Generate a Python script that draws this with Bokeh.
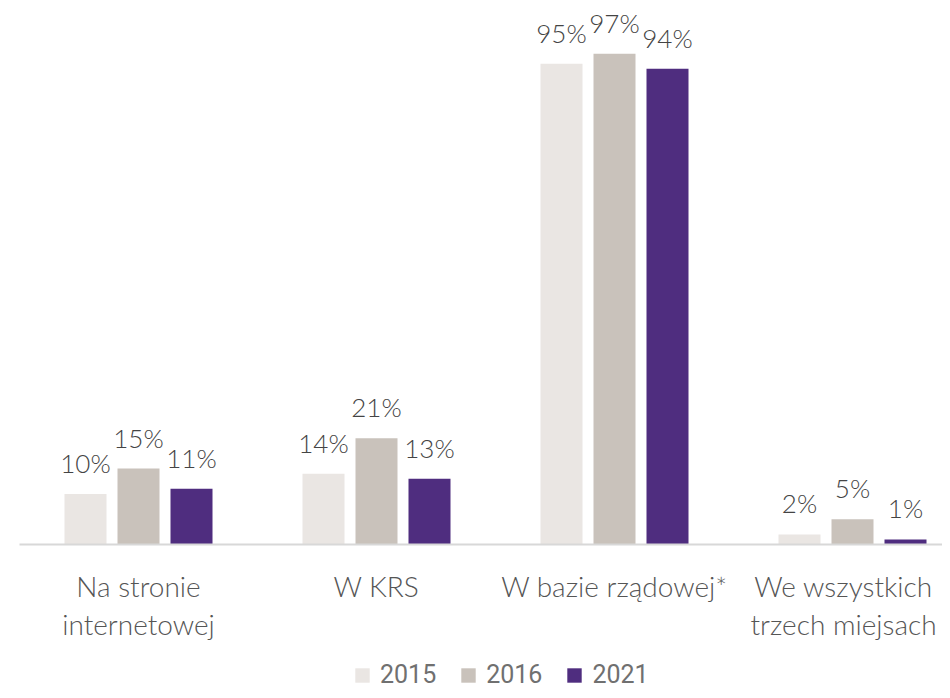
from bokeh.plotting import figure
from bokeh.models import ColumnDataSource, Range1d, Legend, LegendItem
from bokeh.core.properties import value
from bokeh.embed import file_html
from bokeh.resources import INLINE

# ---- data ----
categories = ["Na stronie\ninternetowej", "W KRS", "W bazie rządowej*", "We wszystkich\ntrzech miejsach"]
years = ["2015", "2016", "2021"]
values_2015 = [10, 14, 95, 2]
values_2016 = [15, 21, 97, 5]
values_2021 = [11, 13, 94, 1]
label_2015 = ["10%", "14%", "95%", "2%"]
label_2016 = ["15%", "21%", "97%", "5%"]
label_2021 = ["11%", "13%", "94%", "1%"]

colors = ["#EAE6E3", "#C9C2BB", "#4F2D7F"]
series = [values_2015, values_2016, values_2021]
labels = [label_2015, label_2016, label_2021]

W, H = 942, 690
px_per_unit_x = 238.0
px_per_pct = 5.06
x0_px = 19          # category-range start inside frame (px)
base_px = 544       # baseline from frame top (px)

x_start = -x0_px / px_per_unit_x
x_end = (W - x0_px) / px_per_unit_x
y_end = base_px / px_per_pct
y_start = -(H - base_px) / px_per_pct

p = figure(width=W, height=H, output_backend="svg", toolbar_location=None,
           x_range=Range1d(x_start, x_end), y_range=Range1d(y_start, y_end),
           min_border=0, min_border_left=0, min_border_right=0,
           min_border_top=0, min_border_bottom=0)
p.axis.visible = False
p.grid.visible = False
p.outline_line_color = None
p.background_fill_color = None
p.border_fill_color = None

centers = [i + 0.5 for i in range(len(categories))]
bar_w = 42 / px_per_unit_x
offsets = [-53 / px_per_unit_x, 0.0, 53 / px_per_unit_x]

font = value("Lato Light")
renderers = []
for k, (vals, labs, col, off) in enumerate(zip(series, labels, colors, offsets)):
    xs = [c + off for c in centers]
    src = ColumnDataSource(dict(x=xs, top=vals, lab=labs))
    r = p.vbar(x="x", top="top", bottom=0, width=bar_w, source=src,
               fill_color=col, line_color=None)
    renderers.append(r)
    p.text(x="x", y="top", text="lab", source=src, text_align="center",
           text_baseline="alphabetic", y_offset=-31, text_font=font,
           text_font_size="26px", text_color="#444444")

# baseline axis line
p.segment(x0=[0], y0=[0], x1=[x_end], y1=[0], line_color="#D8D8D8", line_width=2)

# category labels (last one nudged left so it stays inside the canvas)
line1 = [c.split("\n")[0] for c in categories]
line2 = [c.split("\n")[1] if "\n" in c else "" for c in categories]
nudge = [0, 0, 0, -9]
csrc = ColumnDataSource(dict(x=centers, y=[0] * len(centers), l1=line1, l2=line2, dx=nudge))
p.text(x="x", y="y", text="l1", source=csrc, text_align="center",
       text_baseline="alphabetic", x_offset="dx", y_offset=41, text_font=font,
       text_font_size="28px", text_color="#555555")
p.text(x="x", y="y", text="l2", source=csrc, text_align="center",
       text_baseline="alphabetic", x_offset="dx", y_offset=79, text_font=font,
       text_font_size="28px", text_color="#555555")

legend = Legend(items=[LegendItem(label=y, renderers=[r]) for y, r in zip(years, renderers)],
                orientation="horizontal", location=(353, 1),
                glyph_width=18, glyph_height=18, label_standoff=9, spacing=23,
                padding=0, margin=0, border_line_color=None,
                background_fill_alpha=0,
                label_text_font="Roboto", label_text_font_size="25px",
                label_text_font_style="normal",
                label_text_color="#707070")
p.add_layout(legend)

open("out.html", "w").write(file_html(p, INLINE))
